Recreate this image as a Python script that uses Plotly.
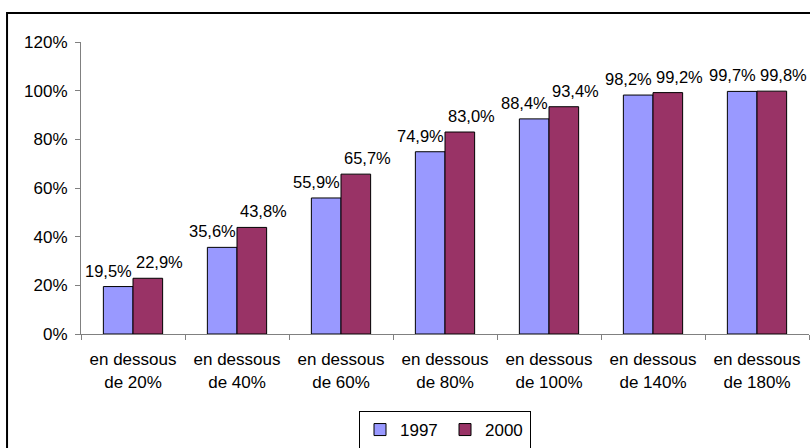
import plotly.graph_objects as go

categories = ["en dessous<br>de 20%", "en dessous<br>de 40%", "en dessous<br>de 60%",
              "en dessous<br>de 80%", "en dessous<br>de 100%", "en dessous<br>de 140%",
              "en dessous<br>de 180%"]
values_1997 = [19.5, 35.6, 55.9, 74.9, 88.4, 98.2, 99.7]
values_2000 = [22.9, 43.8, 65.7, 83.0, 93.4, 99.2, 99.8]
y_ticks = [0, 20, 40, 60, 80, 100, 120]
y_tick_labels = ["0%", "20%", "40%", "60%", "80%", "100%", "120%"]

font = dict(family="Liberation Sans, Arial, sans-serif", size=17, color="black")
label_font = dict(family="Liberation Sans, Arial, sans-serif", size=16.5, color="black")

series = [("1997", values_1997, "#9999FF", -25), ("2000", values_2000, "#993366", 26)]

fig = go.Figure()
for name, vals, col, shift in series:
    fig.add_bar(
        x=categories, y=vals, name=name,
        marker=dict(color=col, line=dict(color="black", width=1)),
    )
    # data labels, Excel-style, sitting above each bar
    for cat, v in zip(categories, vals):
        fig.add_annotation(
            x=cat, y=v, text=f"{v:.1f}%".replace(".", ","),
            xref="x", yref="y", showarrow=False,
            xanchor="center", yanchor="bottom", xshift=shift, yshift=5,
            font=label_font,
        )

fig.update_layout(
    width=810, height=448,
    margin=dict(l=81, r=1, t=42, b=114, autoexpand=False),
    paper_bgcolor="white", plot_bgcolor="white",
    font=font,
    barmode="group", bargap=0.43, bargroupgap=0,
    legend=dict(orientation="h", x=0.5, xanchor="center", y=-0.2637, yanchor="top",
                bordercolor="black", borderwidth=1, font=font,
                itemwidth=30, entrywidth=40, traceorder="normal", tracegroupgap=0),
    shapes=[dict(type="rect", xref="paper", yref="paper",
                 x0=-0.1016, x1=1.2, y0=-0.6, y1=1.0993,
                 line=dict(color="black", width=2), layer="below")],
)
fig.update_yaxes(range=[0, 120], tickvals=y_ticks, ticktext=y_tick_labels,
                 showgrid=False, zeroline=False, showline=True, linecolor="#808080",
                 ticks="outside", ticklen=5, tickcolor="#808080", ticklabelstandoff=4,
                 automargin=False)
fig.update_xaxes(showgrid=False, showline=True, linecolor="#808080",
                 ticks="outside", ticklen=5, tickcolor="#808080", tickson="boundaries",
                 tickangle=0, automargin=False, ticklabelstandoff=10)

fig.write_html("out.html", config={"displayModeBar": False},
               post_script="document.body.style.margin='0';")
